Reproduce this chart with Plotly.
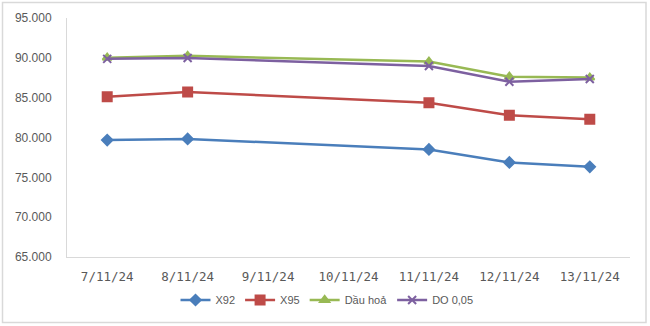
import plotly.graph_objects as go

categories = ["7/11/24", "8/11/24", "9/11/24", "10/11/24", "11/11/24", "12/11/24", "13/11/24"]
x92 = [79.68, 79.82, None, None, 78.50, 76.87, 76.32]
x95 = [85.13, 85.72, None, None, 84.37, 82.78, 82.28]
dau_hoa = [90.02, 90.25, None, None, 89.53, 87.64, 87.52]
do005 = [89.87, 89.98, None, None, 88.98, 87.00, 87.35]
y_ticks = [65, 70, 75, 80, 85, 90, 95]

series = [
    ("X92", x92, "#4a7ebb", "diamond", 8),
    ("X95", x95, "#be4b48", "square", 9),
    ("Dầu hoả", dau_hoa, "#98b954", "triangle-up", 8),
    ("DO 0,05", do005, "#7d60a0", "x-thin-open", 8),
]

fig = go.Figure()
for name, vals, color, sym, size in series:
    fig.add_trace(go.Scatter(
        x=categories, y=vals, name=name, mode="lines+markers",
        connectgaps=True,
        line=dict(color=color, width=2.5),
        marker=dict(symbol=sym, size=size, color=color,
                    line=dict(color=color, width=2)),
    ))

W, H = 650, 326
ml, mr, mt, mb = 67, 20, 18, 69
pw, ph = W - ml - mr, H - mt - mb

def px_x(p):
    return (p - ml) / pw

def px_y(p):
    return (H - mb - p) / ph

fig.update_layout(
    width=W, height=H,
    margin=dict(l=ml, r=mr, t=mt, b=mb, autoexpand=False),
    paper_bgcolor="white", plot_bgcolor="white",
    font=dict(family="Liberation Sans", size=11, color="#595959"),
    showlegend=True,
    legend=dict(orientation="h", x=px_x(327), xanchor="center",
                y=px_y(300), yanchor="middle",
                font=dict(size=11, color="#595959"),
                itemwidth=30, tracegroupgap=0),
    xaxis=dict(type="category", categoryarray=categories, categoryorder="array",
               range=[-0.5, 6.5], showgrid=False, showline=True,
               linecolor="#d9d9d9", linewidth=1, ticks="outside", ticklen=8,
               tickcolor="rgba(0,0,0,0)", tickangle=0,
               tickfont=dict(family="DejaVu Sans Mono", size=12.5, color="#595959"),
               zeroline=False),
    yaxis=dict(range=[65, 95], tickvals=y_ticks, tickformat=".3f",
               showgrid=False, showline=True, linecolor="#d9d9d9", linewidth=1,
               ticks="outside", ticklen=12, tickcolor="rgba(0,0,0,0)",
               tickfont=dict(family="Liberation Sans", size=12, color="#595959"),
               zeroline=False),
    shapes=[dict(type="rect", xref="paper", yref="paper",
                 x0=px_x(2.5), x1=px_x(646), y0=px_y(322.5), y1=px_y(2.5),
                 line=dict(color="#d9d9d9", width=1.5), fillcolor="rgba(0,0,0,0)",
                 layer="below")],
)

fig.write_html("out.html")
